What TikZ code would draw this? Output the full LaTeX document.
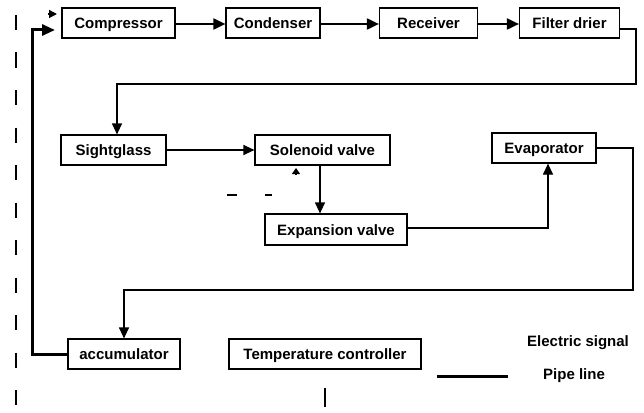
\documentclass[tikz,border=0pt]{standalone}
\usepackage{fontspec}
\setmainfont{Liberation Sans}
\usetikzlibrary{arrows.meta}
\tikzset{
	unit/.style={draw, line width=1.2pt, minimum height=30pt, inner sep=0pt, text height=11pt, text depth=0pt, font=\fontsize{15}{17}\selectfont\bfseries},
	legendtext/.style={inner sep=0pt, font=\fontsize{15}{17}\selectfont\bfseries},
	pipe/.style={line width=1.2pt, -{Triangle[length=11pt,width=10pt]}},
	bigpipe/.style={line width=2pt, -{Triangle[length=12pt,width=11pt]}},
	signal/.style={line width=2pt, dash pattern=on 15pt off 22.5pt},
}

\begin{document}
\begin{tikzpicture}[x=1pt,y=-1pt]
	\useasboundingbox (0,0) rectangle (644,412);

	\node[unit, minimum width=113pt] (comp) at (118.5,23) {Compressor};
	\node[unit, minimum width=94pt] (cond) at (273,23) {Condenser};
	\node[unit, minimum width=98pt] (recv) at (428.5,23) {Receiver};
	\node[unit, minimum width=100pt] (filt) at (569.5,23) {Filter drier};
	\node[unit, minimum width=105pt] (sight) at (113.5,150) {Sightglass};
	\node[unit, minimum width=135pt] (solen) at (322.5,150) {Solenoid valve};
	\node[unit, minimum width=142pt, minimum height=31pt] (expan) at (336,229.5) {Expansion valve};
	\node[unit, minimum width=104pt] (evap) at (544,148) {Evaporator};
	\node[unit, minimum width=112pt] (accum) at (124,354) {accumulator};
	\node[unit, minimum width=192pt] (temp) at (325,354) {Temperature controller};

	\coordinate (compin) at (55,30);
	\coordinate (sigin) at (57,14);

	\draw[bigpipe] (comp.east |- 0,24) -- (cond.west |- 0,24);
	\draw[bigpipe] (cond.east |- 0,24) -- (recv.west |- 0,24);
	\draw[bigpipe] (recv.east |- 0,24) -- (filt.west |- 0,24);
	\draw[pipe] (filt.east |- 0,29) -- (636,29) -- (636,84) -- (117,84) -- (sight.north -| 117,0);
	\draw[pipe] (sight.east) -- (solen.west);
	\draw[pipe] (solen.south -| 320,0) -- (expan.north -| 320,0);
	\draw[pipe] (expan.east |- 0,228) -- (548,228) -- (evap.south -| 548,0);
	\draw[pipe] (evap.east) -- (633,148) -- (633,290) -- (124,290) -- (accum.north);
	\draw[line width=3pt, -{Triangle[length=13pt,width=11pt]}] (accum.west) -- (32,354) -- (32,30) -- (compin);

	\draw[signal] (16,15) -- (16,405);
	\draw[line width=1.2pt, -{Triangle[length=8pt,width=8pt]}] (48,14) -- (sigin);
	\draw[line width=1.2pt, -{Triangle[length=6pt,width=8pt]}] (296,175) -- (296,168);
	\draw[line width=1.5pt] (227,195) -- (237,195) (265,195) -- (272,195);
	\draw[line width=2pt] (325,388) -- (325,407);

	\draw[line width=3pt] (437,376) -- (508,376);
	\node[legendtext, anchor=west] (elec) at (527,343) {Electric signal};
	\node[legendtext, anchor=west] (pipel) at (543,376) {Pipe line};
\end{tikzpicture}
\end{document}
